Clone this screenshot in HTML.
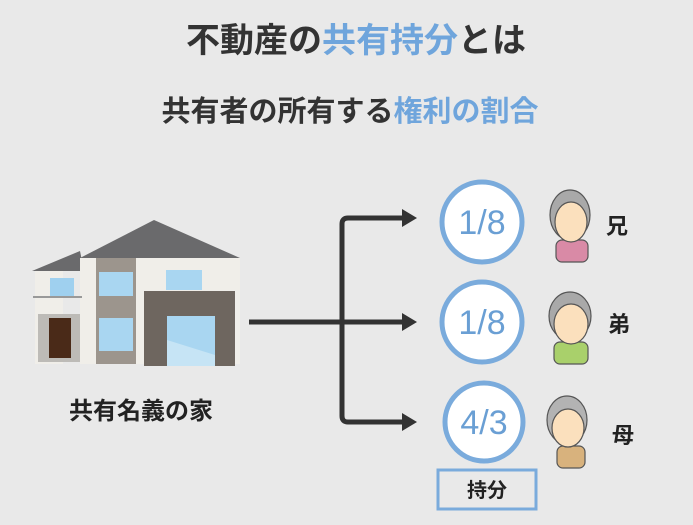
<!DOCTYPE html>
<html><head><meta charset="utf-8"><style>
html,body{margin:0;padding:0;background:#e9e9e9;}
svg{display:block}
text{font-family:"Liberation Sans","Noto Sans CJK JP",sans-serif;}
</style></head><body>
<svg width="693" height="525" viewBox="0 0 693 525" xmlns="http://www.w3.org/2000/svg">
<rect width="693" height="525" fill="#e9e9e9"/>
<text x="356" y="52" text-anchor="middle" font-size="34" font-weight="bold" fill="#333" font-family="Noto Sans CJK JP, sans-serif">不動産の<tspan fill="#6fa5dc">共有持分</tspan>とは</text>
<text x="350" y="121" text-anchor="middle" font-size="29" font-weight="bold" fill="#333" font-family="Noto Sans CJK JP, sans-serif">共有者の所有する<tspan fill="#6fa5dc">権利の割合</tspan></text>

<!-- house -->
<polygon points="32,271 80,251 84,271" fill="#6a6a6c"/>
<rect x="35" y="271" width="28" height="93" fill="#f0eee9"/>
<rect x="80" y="258" width="160" height="106" fill="#f0eee9"/>
<polygon points="80,258 154,220 240,258" fill="#6a6a6c"/>
<rect x="50" y="278" width="24" height="20" fill="#9fd0ef"/>
<line x1="33" y1="297" x2="82" y2="297" stroke="#999" stroke-width="2"/>
<rect x="38" y="314" width="42" height="48" fill="#bdbbb7"/>
<rect x="49" y="318" width="22" height="40" fill="#4a2a18"/>
<rect x="96" y="258" width="40" height="106" fill="#9c958d"/>
<rect x="99" y="272" width="34" height="24" fill="#a9d6f1"/>
<rect x="99" y="318" width="34" height="33" fill="#a9d6f1"/>
<rect x="166" y="270" width="36" height="20" fill="#a9d6f1"/>
<rect x="144" y="291" width="91" height="75" fill="#6e665f"/>
<rect x="167" y="316" width="48" height="50" fill="#a9d6f1"/>
<polygon points="167,340 215,355 215,366 167,366" fill="#c6e4f5"/>
<text x="141" y="419" text-anchor="middle" font-size="24" font-weight="bold" fill="#222" font-family="Noto Sans CJK JP, sans-serif">共有名義の家</text>

<!-- connectors -->
<g stroke="#333" stroke-width="5" fill="none">
<line x1="249" y1="322" x2="342" y2="322"/>
<path d="M405,218 H348 Q342,218 342,224 V416 Q342,422 348,422 H405"/>
<line x1="342" y1="322" x2="405" y2="322"/>
</g>
<g fill="#333">
<polygon points="417,218 402,209 402,227"/>
<polygon points="417,322 402,313 402,331"/>
<polygon points="417,422 402,413 402,431"/>
</g>

<!-- circles -->
<g fill="#fff" stroke="#7aabdc" stroke-width="5">
<circle cx="482" cy="222" r="40"/>
<circle cx="482" cy="322" r="40"/>
<circle cx="484" cy="422" r="39"/>
</g>
<g font-size="34" fill="#6a9fd4" text-anchor="middle">
<text x="482" y="234">1/8</text>
<text x="482" y="334">1/8</text>
<text x="484" y="434">4/3</text>
</g>

<!-- people -->
<g stroke="#555" stroke-width="1.2">
<rect x="556" y="240" width="32" height="22" rx="6" fill="#d98aa6"/>
<ellipse cx="570" cy="215" rx="20" ry="25" fill="#a9a9a9"/>
<ellipse cx="571" cy="222" rx="16" ry="20" fill="#fbe0bd"/>
<rect x="554" y="342" width="34" height="22" rx="6" fill="#a9d06b"/>
<ellipse cx="570" cy="316" rx="21" ry="24" fill="#a9a9a9"/>
<ellipse cx="571" cy="324" rx="17" ry="20" fill="#fbe0bd"/>
<rect x="557" y="446" width="28" height="22" rx="6" fill="#d8b27d"/>
<ellipse cx="567" cy="420" rx="20" ry="24" fill="#b3b3b3"/>
<ellipse cx="568" cy="428" rx="16" ry="19" fill="#fbe0bd"/>
</g>
<g font-size="22" font-weight="bold" fill="#222" font-family="Noto Sans CJK JP, sans-serif">
<text x="606" y="234">兄</text>
<text x="608" y="332">弟</text>
<text x="612" y="443">母</text>
</g>

<rect x="438" y="470" width="98" height="39" fill="#e9e9e9" stroke="#7aabdc" stroke-width="3"/>
<text x="487" y="497" text-anchor="middle" font-size="20" font-weight="bold" fill="#222" font-family="Noto Sans CJK JP, sans-serif">持分</text>
</svg>
</body></html>
